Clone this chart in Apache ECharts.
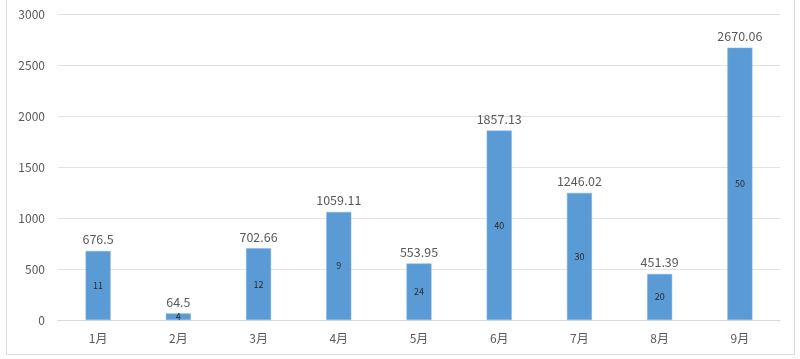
<!DOCTYPE html>
<html>
<head>
<meta charset="utf-8">
<script src="https://cdn.jsdelivr.net/npm/echarts@6/dist/echarts.min.js"></script>
<style>html,body{margin:0;padding:0;background:#fff}#c{width:800px;height:359px}</style>
</head>
<body>
<div id="c"></div>
<script>
var categories = ['1月','2月','3月','4月','5月','6月','7月','8月','9月'];
var amounts = [676.5, 64.5, 702.66, 1059.11, 553.95, 1857.13, 1246.02, 451.39, 2670.06];
var counts = [11, 4, 12, 9, 24, 40, 30, 20, 50];
var yTicks = {min: 0, max: 3000, interval: 500};

var chart = echarts.init(document.getElementById('c'), null, {renderer: 'canvas'});
var font = '"Noto Sans CJK SC", "Open Sans", sans-serif';
chart.setOption({
  animation: false,
  textStyle: {fontFamily: font},
  graphic: [{
    type: 'rect', shape: {x: 6.5, y: -5, width: 788, height: 359.5},
    style: {fill: 'none', stroke: '#d9d9d9', lineWidth: 1}, silent: true, z: -10
  }],
  grid: {left: 58, right: 20, top: 14, bottom: 39},
  xAxis: {
    type: 'category', data: categories,
    axisLine: {lineStyle: {color: '#d9d9d9'}},
    axisTick: {show: false},
    axisLabel: {color: '#595959', fontSize: 12, margin: 12, fontFamily: font}
  },
  yAxis: {
    type: 'value', min: yTicks.min, max: yTicks.max, interval: yTicks.interval,
    axisLine: {show: false}, axisTick: {show: false},
    splitLine: {lineStyle: {color: '#e3e3e3'}},
    axisLabel: {color: '#595959', fontSize: 12, margin: 13, fontFamily: font,
      formatter: function(v){ return String(v); }}
  },
  series: [{
    type: 'bar', data: amounts, barWidth: 25,
    itemStyle: {color: '#5B9BD5', borderColor: '#7fb2e0', borderWidth: 0.5},
    label: {show: true, position: 'top', distance: 5, color: '#595959', fontSize: 12.5, fontFamily: font}
  }, {
    type: 'bar', data: amounts,
    barWidth: 25, barGap: '-100%',
    itemStyle: {color: 'rgba(0,0,0,0)'},
    label: {show: true, position: 'inside', color: '#2b2b2b', fontSize: 9, fontFamily: font,
      formatter: function(p){ return counts[p.dataIndex]; }}
  }]
});
</script>
</body>
</html>
